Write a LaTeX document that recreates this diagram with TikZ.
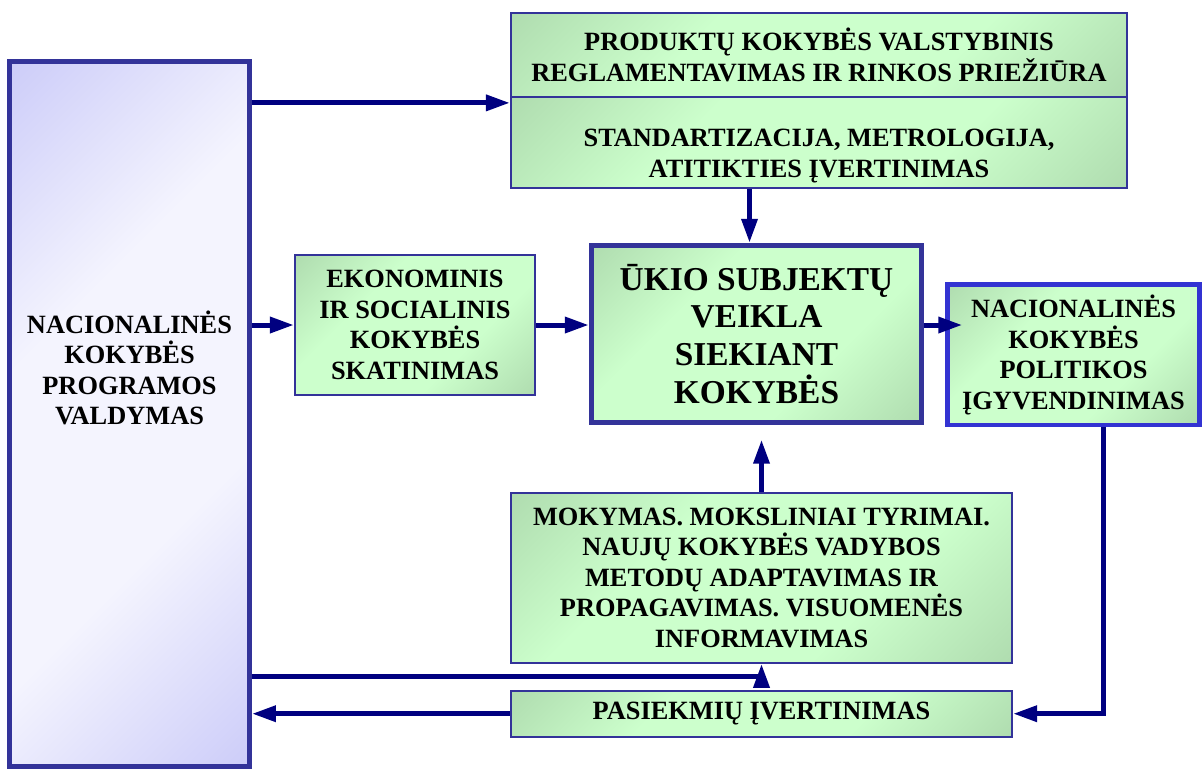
\documentclass[tikz,border=0pt]{standalone}
\usepackage{fontspec}
\setmainfont{Liberation Serif}
\usepackage{tikz}
\usetikzlibrary{arrows.meta, positioning, calc}
\definecolor{marinas}{RGB}{0,0,128}
\definecolor{remelis}{RGB}{51,51,153}
\definecolor{remelisb}{RGB}{51,51,210}
\definecolor{zalsvas}{RGB}{204,255,204}
\definecolor{zalias}{RGB}{172,216,172}
\definecolor{levanda}{RGB}{200,200,248}
\definecolor{levandasv}{RGB}{244,244,254}
\pgfdeclareverticalshading{zaliakampai}{100bp}{color(0bp)=(zalias); color(12bp)=(zalias); color(36bp)=(zalsvas); color(64bp)=(zalsvas); color(88bp)=(zalias); color(100bp)=(zalias)}
\pgfdeclareverticalshading{levandakampai}{100bp}{color(0bp)=(levanda); color(12bp)=(levanda); color(38bp)=(levandasv); color(62bp)=(levandasv); color(88bp)=(levanda); color(100bp)=(levanda)}
\tikzset{>=stealth,
	zalia/.style={draw=remelis, line width=1.3pt, shading=zaliakampai, shading angle=45, inner sep=0pt, align=center, font=\bfseries\fontsize{15}{17.4}\selectfont},
	violetine/.style={draw=remelis, line width=2.85pt, shading=levandakampai, shading angle=45, inner sep=0pt},
	tekstas/.style={align=center, inner sep=0pt, font=\bfseries\fontsize{15}{17.4}\selectfont},
	linija/.style={draw=marinas, line width=0.1cm},
	rodykle/.style={linija, -{Triangle[length=0.48cm,width=0.31cm]}}}

\begin{document}
\begin{tikzpicture}[x=0.02cm, y=-0.02cm]
	\useasboundingbox (0,0) rectangle (1202,769);

	% kairysis stulpelis
	\node [violetine, minimum width=4.8cm, minimum height=14.1cm] (valdymas) at (129.5,414.25) {};
	\node [tekstas] (valdymastxt) at (129.5,368) {NACIONALINĖS\\KOKYBĖS\\PROGRAMOS\\VALDYMAS};

	% virsutinis blokas
	\node [zalia, minimum width=12.32cm, minimum height=1.68cm] (prod) at (819,55) {PRODUKTŲ KOKYBĖS VALSTYBINIS\\REGLAMENTAVIMAS IR RINKOS PRIEŽIŪRA};
	\node [zalia, minimum width=12.32cm, minimum height=1.82cm] (stand) at (819,142.5) {};
	\node [tekstas] (standtxt) at (819,156) {STANDARTIZACIJA, METROLOGIJA,\\ATITIKTIES ĮVERTINIMAS};

	\node [zalia, minimum width=4.8cm, minimum height=2.8cm] (ekon) at (415,325) {EKONOMINIS\\IR SOCIALINIS\\KOKYBĖS\\SKATINIMAS};
	\node [zalia, line width=3.1pt, minimum width=6.6cm, minimum height=3.54cm, font=\bfseries\fontsize{19}{21.6}\selectfont] (ukio) at (756.5,334) {ŪKIO SUBJEKTŲ\\VEIKLA\\SIEKIANT\\KOKYBĖS};
	\node [zalia, draw=remelisb, line width=2.55pt, minimum width=5.04cm, minimum height=2.81cm] (nac) at (1073.5,354.75) {NACIONALINĖS\\KOKYBĖS\\POLITIKOS\\ĮGYVENDINIMAS};
	\node [zalia, minimum width=10.02cm, minimum height=3.4cm] (mok) at (761.5,577.7) {MOKYMAS. MOKSLINIAI TYRIMAI.\\NAUJŲ KOKYBĖS VADYBOS\\METODŲ ADAPTAVIMAS IR\\PROPAGAVIMAS. VISUOMENĖS\\INFORMAVIMAS};
	\node [zalia, minimum width=10.02cm, minimum height=0.92cm] (pas) at (761.5,713.7) {PASIEKMIŲ ĮVERTINIMAS};

	% rodykles
	\draw [rodykle] ([yshift=-0.14cm]valdymas.east |- stand.north west) -- ([yshift=-0.14cm]stand.north west);
	\draw [rodykle] ([xshift=-0.14cm]stand.south -| ukio.north) -- ([xshift=-0.14cm]ukio.north);
	\draw [rodykle] (valdymas.east |- ekon.west) -- (ekon.west);
	\draw [rodykle] (ekon.east) -- (ekon.east -| ukio.west);
	\draw [rodykle, shorten >=-0.34cm] (ukio.east |- ekon.east) -- (nac.west |- ekon.east);
	\draw [rodykle, shorten >=0.29cm] (mok.north) -- (mok.north |- ukio.south);

	\coordinate (grizimas) at ($(mok.south)!0.5!(pas.north)$);
	\draw [linija] (valdymas.east |- grizimas) -- (grizimas);
	\draw [rodykle] (grizimas) -- (mok.south);
	\draw [rodykle] ([xshift=0.59cm]nac.south) |- (pas.east);
	\draw [rodykle] (pas.west) -- (pas.west -| valdymas.east);
\end{tikzpicture}
\end{document}
